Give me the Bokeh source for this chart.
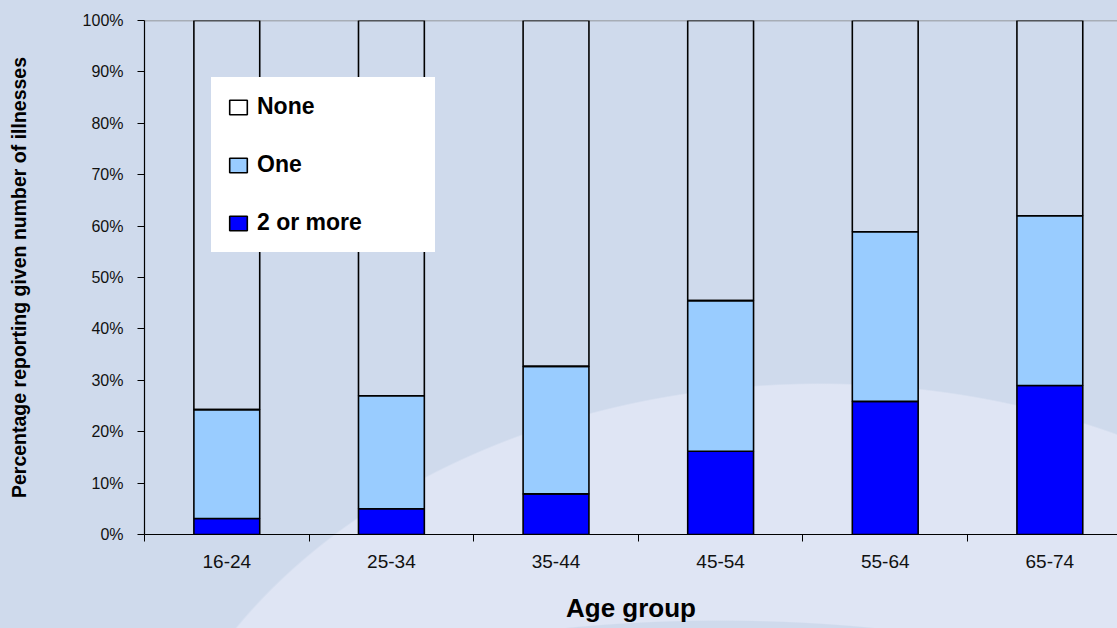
from bokeh.plotting import figure
from bokeh.models import (Range1d, FixedTicker, PrintfTickFormatter, Legend, LegendItem,
                          Span, ColumnDataSource)
from bokeh.embed import file_html
from bokeh.resources import INLINE

# ---- data ----
age_groups = ["16-24", "25-34", "35-44", "45-54", "55-64", "65-74"]
two_or_more = [3.1, 5.0, 7.9, 16.2, 25.9, 29.0]
one_illness = [21.2, 22.0, 24.8, 29.3, 33.0, 33.0]
no_illness = [75.7, 73.0, 67.3, 54.5, 41.1, 38.0]
y_tick_values = [0, 10, 20, 30, 40, 50, 60, 70, 80, 90, 100]
series_names = ["2 or more", "One", "None"]

FONT = "Liberation Sans"

x_pos = [i + 0.5 for i in range(len(age_groups))]
source = ColumnDataSource(dict(x=x_pos, two=two_or_more, one=one_illness, none=no_illness))

p = figure(width=1117, height=628,
           x_range=Range1d(0, 5.911), y_range=Range1d(0, 100),
           output_backend="svg", toolbar_location=None,
           min_border_left=144, min_border_right=0, min_border_top=20, min_border_bottom=94)

p.background_fill_alpha = 0
p.border_fill_alpha = 0
p.outline_line_color = None
p.styles = {
    "background": (
        "radial-gradient(ellipse 697px 300px at 720px 920px, #CFDAEC 99.6%, rgba(207,218,236,0) 100%),"
        "radial-gradient(ellipse 688px 517px at 820px 900px, #DFE5F4 99.7%, rgba(223,229,244,0) 100%),"
        "#CFDAEC"
    )
}

top_line = Span(location=100, dimension="width", line_color="#808080", line_width=1.5, level="underlay")
p.add_layout(top_line)

rs = p.vbar_stack(["two", "one", "none"], x="x", width=0.4, source=source,
                  fill_color=["#0000FF", "#99CCFF", "#FFFFFF"],
                  fill_alpha=[1, 1, 0],
                  line_color="black", line_width=1.6)

legend = Legend(items=[LegendItem(label=series_names[2], renderers=[rs[2]]),
                       LegendItem(label=series_names[1], renderers=[rs[1]]),
                       LegendItem(label=series_names[0], renderers=[rs[0]])],
                location=(67, 282))
legend.background_fill_color = "white"
legend.background_fill_alpha = 1
legend.border_line_alpha = 0
legend.padding = 16
legend.spacing = 31
legend.glyph_width = 22
legend.glyph_height = 18
legend.label_height = 18
legend.label_width = 162
legend.label_standoff = 8
legend.margin = 0
legend.label_text_font = FONT
legend.label_text_font_style = "bold"
legend.label_text_font_size = "23px"
legend.label_text_color = "black"
p.add_layout(legend)

p.xgrid.visible = False
p.ygrid.visible = False

# x axis
xa = p.xaxis[0]
xa.ticker = FixedTicker(ticks=x_pos, minor_ticks=list(range(0, len(age_groups) + 1)))
xa.major_label_overrides = {xv: lab for xv, lab in zip(x_pos, age_groups)}
xa.major_tick_out = 0
xa.major_tick_in = 0
xa.minor_tick_out = 7
xa.minor_tick_in = 0
xa.minor_tick_line_color = "black"
xa.axis_line_color = "black"
xa.axis_line_width = 1.2
xa.major_label_standoff = 13
xa.major_label_text_font = FONT
xa.major_label_text_font_size = "19px"
xa.major_label_text_color = "#111111"
xa.axis_label = "Age group"
xa.axis_label_text_font = FONT
xa.axis_label_text_font_style = "bold"
xa.axis_label_text_font_size = "26px"
xa.axis_label_text_color = "black"
xa.axis_label_standoff = 22

# y axis
ya = p.yaxis[0]
ya.ticker = FixedTicker(ticks=y_tick_values, minor_ticks=[])
ya.formatter = PrintfTickFormatter(format="%d%%")
ya.major_tick_out = 7
ya.major_tick_in = 0
ya.major_tick_line_color = "black"
ya.axis_line_color = "black"
ya.axis_line_width = 1.2
ya.major_label_standoff = 14
ya.major_label_text_font = FONT
ya.major_label_text_font_size = "16px"
ya.major_label_text_color = "#111111"
ya.axis_label = "Percentage reporting given number of illnesses"
ya.axis_label_text_font = FONT
ya.axis_label_text_font_style = "bold"
ya.axis_label_text_font_size = "19.5px"
ya.axis_label_text_color = "black"
ya.axis_label_standoff = 50

open("out.html", "w").write(file_html(p, INLINE))
